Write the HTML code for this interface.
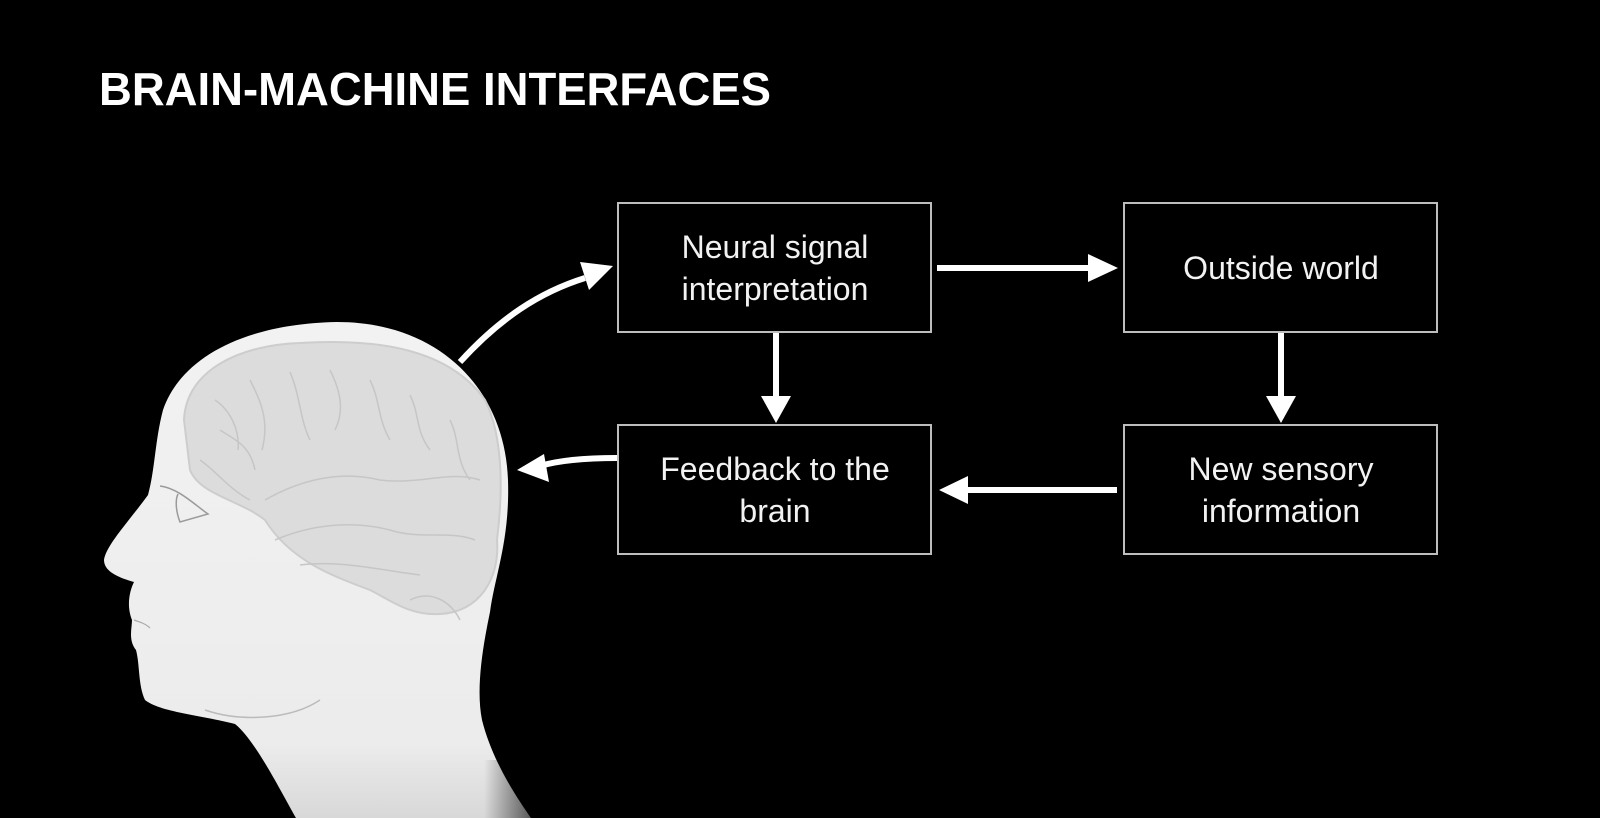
<!DOCTYPE html>
<html><head><meta charset="utf-8"><style>
html,body{margin:0;padding:0;background:#000;overflow:hidden;width:1600px;height:818px}
svg{display:block}
</style></head><body>
<svg width="1600" height="818" viewBox="0 0 1600 818" xmlns="http://www.w3.org/2000/svg">
<defs>
<linearGradient id="neck" x1="0" y1="0" x2="0" y2="1">
<stop offset="0" stop-color="#f2f2f2"/>
<stop offset="0.85" stop-color="#ececec"/>
<stop offset="1" stop-color="#d8d8d8"/>
</linearGradient>
<linearGradient id="fade" x1="0" y1="0" x2="1" y2="0">
<stop offset="0.6" stop-color="#000" stop-opacity="0"/>
<stop offset="1" stop-color="#000" stop-opacity="0.7"/>
</linearGradient>
</defs>
<rect width="1600" height="818" fill="#000"/>
<text x="99" y="105" font-family="Liberation Sans, sans-serif" font-weight="bold" font-size="46" fill="#fff" textLength="672" lengthAdjust="spacingAndGlyphs">BRAIN-MACHINE INTERFACES</text>

<!-- head -->
<path d="M296,818 C280,790 255,740 235,724 C200,715 160,712 145,700 C138,685 140,665 136,650 C128,640 132,628 132,620 C126,605 130,590 134,582 C120,578 104,572 104,560 C106,545 130,520 148,495 C155,470 155,440 163,410 C180,360 240,324 337,322 C440,322 505,390 508,480 C510,540 495,575 490,612 C482,650 476,690 482,720 C492,760 515,795 531,818 Z" fill="url(#neck)"/>
<rect x="400" y="760" width="140" height="58" fill="url(#fade)"/>
<!-- brain -->
<path d="M184,420 C186,370 240,345 300,343 C380,338 450,350 485,400 C505,440 502,500 497,540 C500,578 480,612 440,614 C410,616 390,600 370,590 C330,575 290,560 265,520 C240,500 200,495 190,470 Z" fill="#dcdcdc" stroke="#cdcdcd" stroke-width="2"/>
<g fill="none" stroke="#c6c6c6" stroke-width="1.5">
<path d="M215,400 C230,410 240,430 238,450 M250,380 C260,400 270,420 262,450 M290,372 C300,395 300,420 310,440 M330,370 C340,390 345,410 335,430 M370,380 C380,400 378,420 390,440 M410,395 C420,415 415,430 430,450 M450,420 C460,440 455,460 470,480"/>
<path d="M265,500 C300,480 340,470 380,480 C420,485 450,470 480,480 M275,540 C310,525 350,520 390,530 C420,540 450,530 475,540 M300,565 C340,560 380,570 420,575 M410,600 C430,590 450,600 460,620"/>
<path d="M200,460 C215,470 230,490 250,500 M220,430 C235,440 250,445 255,470"/>
</g>
<!-- face details -->
<path d="M160,486 C178,488 195,505 208,514 L180,522 C176,512 175,500 178,494" fill="none" stroke="#9a9a9a" stroke-width="1.5"/>
<path d="M205,710 C240,722 290,720 320,700" fill="none" stroke="#bbb" stroke-width="1.5"/>
<path d="M134,620 C140,622 146,624 150,628" fill="none" stroke="#aaa" stroke-width="1.2"/>

<!-- boxes -->
<g fill="none" stroke="#bdbdbd" stroke-width="2">
<rect x="618" y="203" width="313" height="129"/>
<rect x="1124" y="203" width="313" height="129"/>
<rect x="618" y="425" width="313" height="129"/>
<rect x="1124" y="425" width="313" height="129"/>
</g>
<g font-family="Liberation Sans, sans-serif" font-size="32" fill="#f2f2f2" text-anchor="middle">
<text x="775" y="258">Neural signal</text>
<text x="775" y="300">interpretation</text>
<text x="1281" y="279">Outside world</text>
<text x="775" y="480">Feedback to the</text>
<text x="775" y="522">brain</text>
<text x="1281" y="480">New sensory</text>
<text x="1281" y="522">information</text>
</g>

<!-- arrows -->
<g stroke="#fff" stroke-width="6" fill="none">
<line x1="937" y1="268" x2="1090" y2="268"/>
<line x1="776" y1="333" x2="776" y2="398"/>
<line x1="1281" y1="333" x2="1281" y2="398"/>
<line x1="1117" y1="490" x2="966" y2="490"/>
<path d="M460,362 C500,318 540,292 585,278"/>
<path d="M617,458 C585,458 560,460 540,466"/>
</g>
<g fill="#fff">
<polygon points="1118,268 1088,254 1088,282"/>
<polygon points="776,423 761,396 791,396"/>
<polygon points="1281,423 1266,396 1296,396"/>
<polygon points="939,490 968,476 968,504"/>
<polygon points="613,266 580,262 589,290"/>
<polygon points="517,470 544,454 549,482"/>
</g>
</svg>
</body></html>
